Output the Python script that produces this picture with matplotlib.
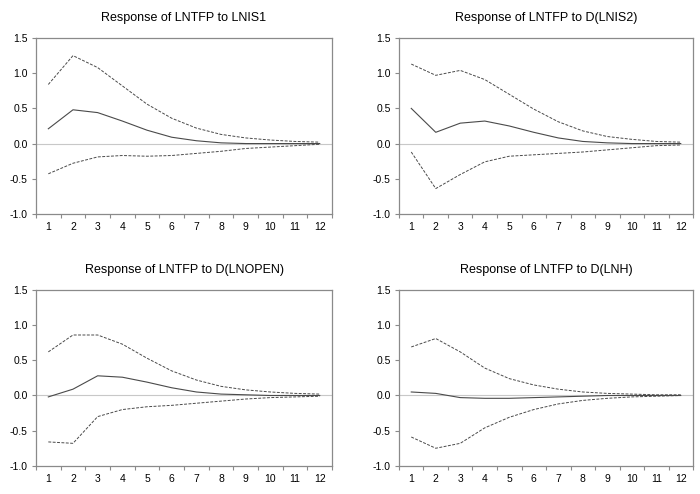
import matplotlib
matplotlib.use("Agg")
import matplotlib.pyplot as plt
import numpy as np

plt.rcParams["font.family"] = ["Liberation Sans", "DejaVu Sans"]

periods = list(range(1, 13))

titles = [
    "Response of LNTFP to LNIS1",
    "Response of LNTFP to D(LNIS2)",
    "Response of LNTFP to D(LNOPEN)",
    "Response of LNTFP to D(LNH)",
]

# impulse responses with +/- 2 s.e. bands
resp_lnis1 = [0.21, 0.48, 0.44, 0.32, 0.19, 0.09, 0.04, 0.01, 0.0, 0.0, 0.0, 0.0]
upper_lnis1 = [0.84, 1.25, 1.08, 0.82, 0.56, 0.36, 0.22, 0.13, 0.08, 0.05, 0.03, 0.02]
lower_lnis1 = [-0.43, -0.28, -0.19, -0.17, -0.18, -0.17, -0.14, -0.11, -0.07, -0.05, -0.03, -0.01]

resp_lnis2 = [0.50, 0.16, 0.29, 0.32, 0.25, 0.16, 0.08, 0.03, 0.01, 0.0, 0.0, 0.0]
upper_lnis2 = [1.13, 0.97, 1.04, 0.91, 0.70, 0.49, 0.31, 0.18, 0.10, 0.06, 0.03, 0.02]
lower_lnis2 = [-0.12, -0.64, -0.44, -0.26, -0.18, -0.16, -0.14, -0.12, -0.09, -0.06, -0.03, -0.02]

resp_lnopen = [-0.02, 0.09, 0.28, 0.26, 0.19, 0.11, 0.05, 0.02, 0.01, 0.0, 0.0, 0.0]
upper_lnopen = [0.62, 0.86, 0.86, 0.73, 0.53, 0.35, 0.22, 0.13, 0.08, 0.05, 0.03, 0.02]
lower_lnopen = [-0.66, -0.68, -0.30, -0.20, -0.16, -0.14, -0.11, -0.08, -0.05, -0.03, -0.02, -0.01]

resp_lnh = [0.05, 0.03, -0.03, -0.04, -0.04, -0.03, -0.02, -0.01, 0.0, 0.0, 0.0, 0.0]
upper_lnh = [0.69, 0.81, 0.62, 0.39, 0.24, 0.15, 0.09, 0.05, 0.03, 0.02, 0.01, 0.01]
lower_lnh = [-0.59, -0.75, -0.68, -0.46, -0.31, -0.20, -0.12, -0.07, -0.04, -0.02, -0.01, 0.0]

panels = [
    (resp_lnis1, upper_lnis1, lower_lnis1),
    (resp_lnis2, upper_lnis2, lower_lnis2),
    (resp_lnopen, upper_lnopen, lower_lnopen),
    (resp_lnh, upper_lnh, lower_lnh),
]

# axes rectangles in figure fractions (left, bottom, width, height)
rects = [
    (0.0514, 0.567, 0.423, 0.356),
    (0.570, 0.567, 0.420, 0.356),
    (0.0514, 0.057, 0.423, 0.356),
    (0.570, 0.057, 0.420, 0.356),
]

fig = plt.figure(figsize=(7.0, 4.94), dpi=100)
line_col = "#4a4a4a"
frame_col = "#8a8a8a"

for rect, title, (resp, upper, lower) in zip(rects, titles, panels):
    ax = fig.add_axes(rect)
    ax.axhline(0, color="#c8c8c8", linewidth=0.8, zorder=1)
    ax.plot(periods, resp, color=line_col, linewidth=0.8, zorder=3)
    ax.plot(periods, upper, color=line_col, linewidth=0.7, linestyle=(0, (3, 1.5)), zorder=3)
    ax.plot(periods, lower, color=line_col, linewidth=0.7, linestyle=(0, (3, 1.5)), zorder=3)

    ax.set_xlim(0.5, 12.5)
    ax.set_ylim(-1.0, 1.5)
    ax.set_yticks(np.arange(-1.0, 1.51, 0.5))
    ax.set_yticklabels([f"{v:.1f}" for v in np.arange(-1.0, 1.51, 0.5)])

    # category labels centred, tick marks between categories
    ax.set_xticks(periods)
    ax.set_xticklabels([str(p) for p in periods])
    ax.set_xticks(np.arange(0.5, 12.6, 1.0), minor=True)
    ax.tick_params(axis="x", which="major", length=0, pad=6, labelsize=7.5)
    ax.tick_params(axis="x", which="minor", length=3, color=frame_col, width=0.8)
    ax.tick_params(axis="y", length=3, color=frame_col, width=0.8, labelsize=7.5, pad=3)

    for sp in ax.spines.values():
        sp.set_color(frame_col)
        sp.set_linewidth(0.9)

    ax.set_title(title, fontsize=9, pad=12)

fig.savefig("out.png", dpi=100)
